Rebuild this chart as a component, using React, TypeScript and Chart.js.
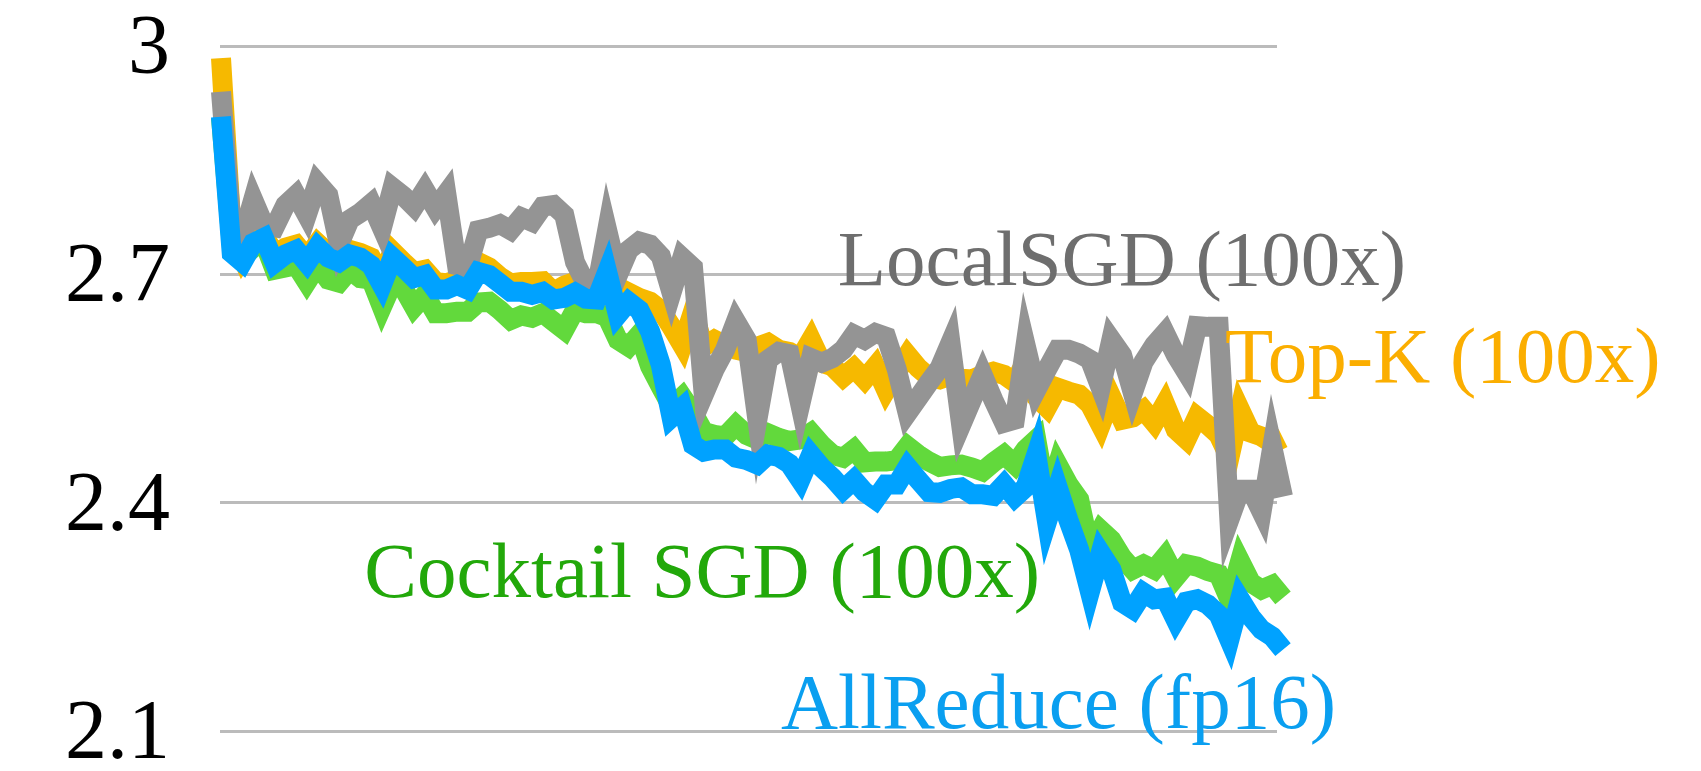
import React, { useEffect, useRef } from "react";
import { Chart, registerables } from "chart.js";

Chart.register(...registerables);

// Y-axis ticks
const yTicks = [2.1, 2.4, 2.7, 3.0];
const yTickLabels = ["2.1", "2.4", "2.7", "3"];

// Series values (evaluation step index 0..99)
const allReduce = [
  2.907, 2.728, 2.716, 2.741, 2.748, 2.715, 2.726, 2.732, 2.715, 2.736,
  2.722, 2.716, 2.726, 2.722, 2.712, 2.686, 2.722, 2.709, 2.695, 2.699,
  2.680, 2.680, 2.686, 2.680, 2.703, 2.699, 2.688, 2.677, 2.677, 2.673,
  2.677, 2.667, 2.669, 2.676, 2.668, 2.667, 2.703, 2.647, 2.664, 2.653,
  2.625, 2.581, 2.512, 2.525, 2.476, 2.467, 2.470, 2.470, 2.459, 2.456,
  2.450, 2.463, 2.460, 2.451, 2.430, 2.463, 2.446, 2.433, 2.417, 2.430,
  2.414, 2.404, 2.424, 2.424, 2.447, 2.430, 2.414, 2.413, 2.418, 2.420,
  2.411, 2.411, 2.409, 2.424, 2.407, 2.420, 2.463, 2.375, 2.420, 2.377,
  2.338, 2.283, 2.334, 2.312, 2.269, 2.260, 2.282, 2.273, 2.275, 2.246,
  2.270, 2.273, 2.266, 2.253, 2.220, 2.273, 2.250, 2.233, 2.224, 2.207,
];

const cocktail = [
  2.906, 2.739, 2.722, 2.735, 2.743, 2.706, 2.709, 2.712, 2.690, 2.712,
  2.693, 2.689, 2.706, 2.695, 2.693, 2.657, 2.689, 2.682, 2.657, 2.673,
  2.649, 2.649, 2.651, 2.651, 2.663, 2.664, 2.653, 2.640, 2.646, 2.643,
  2.649, 2.638, 2.627, 2.653, 2.649, 2.649, 2.644, 2.614, 2.605, 2.621,
  2.579, 2.552, 2.526, 2.539, 2.518, 2.493, 2.489, 2.487, 2.502, 2.489,
  2.483, 2.491, 2.485, 2.481, 2.483, 2.492, 2.476, 2.463, 2.459, 2.470,
  2.453, 2.454, 2.454, 2.456, 2.474, 2.463, 2.454, 2.447, 2.449, 2.450,
  2.446, 2.441, 2.453, 2.463, 2.450, 2.470, 2.483, 2.404, 2.450, 2.424,
  2.404, 2.338, 2.364, 2.351, 2.328, 2.312, 2.319, 2.312, 2.329, 2.302,
  2.319, 2.316, 2.310, 2.306, 2.273, 2.323, 2.295, 2.286, 2.292, 2.275,
];

const topK = [
  2.984, 2.755, 2.722, 2.745, 2.752, 2.726, 2.735, 2.739, 2.722, 2.741,
  2.728, 2.722, 2.732, 2.728, 2.722, 2.697, 2.730, 2.716, 2.703, 2.706,
  2.690, 2.688, 2.693, 2.690, 2.716, 2.709, 2.697, 2.688, 2.690, 2.690,
  2.691, 2.677, 2.685, 2.690, 2.689, 2.677, 2.680, 2.653, 2.676, 2.669,
  2.664, 2.653, 2.631, 2.607, 2.651, 2.605, 2.614, 2.607, 2.601, 2.598,
  2.605, 2.610, 2.601, 2.598, 2.590, 2.614, 2.584, 2.579, 2.565, 2.577,
  2.562, 2.579, 2.548, 2.572, 2.594, 2.577, 2.565, 2.562, 2.567, 2.563,
  2.562, 2.568, 2.572, 2.568, 2.558, 2.585, 2.539, 2.525, 2.551, 2.546,
  2.542, 2.529, 2.502, 2.539, 2.509, 2.512, 2.522, 2.505, 2.530, 2.496,
  2.483, 2.513, 2.502, 2.489, 2.459, 2.522, 2.492, 2.487, 2.478, 2.485,
];

const localSGD = [
  2.940, 2.761, 2.749, 2.798, 2.765, 2.762, 2.791, 2.804, 2.778, 2.820,
  2.804, 2.739, 2.772, 2.781, 2.793, 2.761, 2.814, 2.803, 2.789, 2.811,
  2.787, 2.806, 2.712, 2.709, 2.758, 2.761, 2.766, 2.758, 2.775, 2.769,
  2.789, 2.791, 2.778, 2.716, 2.688, 2.682, 2.758, 2.699, 2.732, 2.743,
  2.739, 2.724, 2.676, 2.722, 2.709, 2.542, 2.575, 2.601, 2.638, 2.614,
  2.509, 2.588, 2.598, 2.595, 2.529, 2.590, 2.584, 2.590, 2.601, 2.621,
  2.614, 2.623, 2.618, 2.575, 2.518, 2.538, 2.558, 2.577, 2.610, 2.502,
  2.535, 2.568, 2.535, 2.505, 2.509, 2.607, 2.548, 2.575, 2.601, 2.601,
  2.596, 2.588, 2.551, 2.614, 2.594, 2.544, 2.585, 2.607, 2.623, 2.594,
  2.571, 2.632, 2.631, 2.631, 2.378, 2.417, 2.417, 2.388, 2.473, 2.408,
];

// Series names and label text
const seriesNames = ["AllReduce (fp16)", "LocalSGD (100x)", "Cocktail SGD (100x)", "Top-K (100x)"];
// Label anchors in data space: [step index, loss value] of the text's left baseline
const labelAnchorX = [52.2, 57.5, 13.35, 93.6];
const labelAnchorY = [2.1035, 2.686, 2.2765, 2.5585];

const lineColors = ["#00A2FF", "#949494", "#62D93C", "#F6B900"];
const textColors = ["#0A9FF0", "#6E6E6E", "#22A80A", "#FBAE00"];

const SERIF = "'Liberation Serif', 'Times New Roman', serif";

export default function App() {
  const canvasRef = useRef<HTMLCanvasElement | null>(null);

  useEffect(() => {
    const canvas = canvasRef.current;
    if (!canvas) return;
    const seriesValues = [allReduce, localSGD, cocktail, topK];

    const labelsPlugin = {
      id: "seriesLabels",
      afterDatasetsDraw(chart: any) {
        const ctx = chart.ctx;
        const xs = chart.scales.x;
        const ys = chart.scales.y;
        ctx.save();
        ctx.font = `79px ${SERIF}`;
        ctx.textAlign = "left";
        ctx.textBaseline = "alphabetic";
        seriesNames.forEach((name, i) => {
          ctx.fillStyle = textColors[i];
          ctx.fillText(name, xs.getPixelForValue(labelAnchorX[i]), ys.getPixelForValue(labelAnchorY[i]));
        });
        ctx.restore();
      },
    };

    const chart = new Chart(canvas, {
      type: "line",
      data: {
        datasets: seriesValues.map((vals, k) => ({
          label: seriesNames[k],
          data: vals.map((v, i) => ({ x: i, y: v })),
          borderColor: lineColors[k],
          backgroundColor: lineColors[k],
          borderWidth: 20,
          pointRadius: 0,
          tension: 0,
          fill: false,
          clip: false as any,
          borderJoinStyle: "miter" as const,
          borderCapStyle: "butt" as const,
        })),
      },
      options: {
        responsive: false,
        animation: false,
        layout: { padding: { top: 46, bottom: 40, left: 0, right: 424 } },
        plugins: {
          legend: { display: false },
          tooltip: { enabled: false },
        },
        scales: {
          x: {
            type: "linear",
            display: false,
            min: -0.093,
            max: 98.44,
          },
          y: {
            min: 2.1,
            max: 3.0,
            afterBuildTicks: (scale: any) => {
              scale.ticks = yTicks.map((v) => ({ value: v }));
            },
            afterFit: (scale: any) => {
              scale.width = 220;
            },
            ticks: {
              padding: 0,
              labelOffset: 5,
              color: "#000000",
              font: { family: SERIF, size: 84, lineHeight: 0.9 },
              callback: (value: any) => {
                const idx = yTicks.findIndex((t) => Math.abs(t - Number(value)) < 1e-6);
                return idx >= 0 ? yTickLabels[idx] : "";
              },
            },
            grid: {
              color: "#BBBBBB",
              lineWidth: 3,
              drawTicks: true,
              tickLength: 50,
              tickColor: "rgba(0,0,0,0)",
            },
            border: { display: false },
          },
        },
      },
      plugins: [labelsPlugin],
    });

    return () => chart.destroy();
  }, []);

  return (
    <div style={{ position: "absolute", left: 0, top: 0, width: 1701, height: 771, background: "#ffffff" }}>
      <canvas ref={canvasRef} width={1701} height={771} style={{ display: "block" }} />
    </div>
  );
}
